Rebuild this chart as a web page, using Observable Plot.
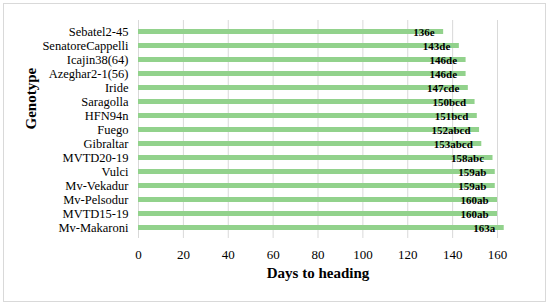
<!DOCTYPE html>
<html>
<head>
<meta charset="utf-8">
<script src="https://cdn.jsdelivr.net/npm/d3@7"></script>
<script src="https://cdn.jsdelivr.net/npm/@observablehq/plot@0.6"></script>
<style>
  html, body { margin: 0; padding: 0; background: #fff; }
  #wrap { position: relative; width: 550px; height: 306px; }
  #border { position: absolute; left: 3px; top: 3px; width: 543px; height: 299px; border: 1px solid #d9d9d9; box-sizing: border-box; pointer-events: none; }
</style>
</head>
<body>
<div id="wrap"><div id="border"></div></div>
<script>
const genotypes = ["Sebatel2-45", "SenatoreCappelli", "Icajin38(64)", "Azeghar2-1(56)", "Iride", "Saragolla", "HFN94n", "Fuego", "Gibraltar", "MVTD20-19", "Vulci", "Mv-Vekadur", "Mv-Pelsodur", "MVTD15-19", "Mv-Makaroni"];
const days = [136, 143, 146, 146, 147, 150, 151, 152, 153, 158, 159, 159, 160, 160, 163];
const letters = ["e", "de", "de", "de", "cde", "bcd", "bcd", "abcd", "abcd", "abc", "ab", "ab", "ab", "ab", "a"];
const xTicks = [0, 20, 40, 60, 80, 100, 120, 140, 160];
const xTitle = "Days to heading";
const yTitle = "Genotype";

const data = genotypes.map((g, i) => ({genotype: g, days: days[i], label: days[i] + letters[i]}));

const chart = Plot.plot({
  width: 550,
  height: 306,
  marginLeft: 138,
  marginRight: 53,
  marginTop: 20,
  marginBottom: 68,
  style: {fontFamily: "'Liberation Serif', 'Times New Roman', serif", background: "transparent", color: "#000"},
  x: {domain: [0, 160], ticks: xTicks},
  y: {domain: genotypes, paddingInner: 0.66, paddingOuter: 0.33},
  marks: [
    Plot.gridX(xTicks, {stroke: "#d9d9d9", strokeOpacity: 1, strokeWidth: 1}),
    Plot.barX(data, {x: "days", y: "genotype", fill: "#92d28c"}),
    Plot.text(data, {x: "days", y: "genotype", text: "label", textAnchor: "end", dx: -9, fontWeight: "bold", fontSize: 11, fill: "#000"}),
    Plot.axisX(xTicks, {tickSize: 0, tickPadding: 11, fontSize: 13, label: null, fill: "#000"}),
    Plot.axisY({tickSize: 0, tickPadding: 10, fontSize: 12.5, label: null, fill: "#000"}),
    Plot.text([xTitle], {frameAnchor: "bottom", dy: 39, text: d => d, fontWeight: "bold", fontSize: 15, fill: "#000"}),
    Plot.text([yTitle], {frameAnchor: "left", dx: -107, rotate: -90, text: d => d, fontWeight: "bold", fontSize: 15, fill: "#000"})
  ]
});
document.getElementById("wrap").prepend(chart);
</script>
</body>
</html>
